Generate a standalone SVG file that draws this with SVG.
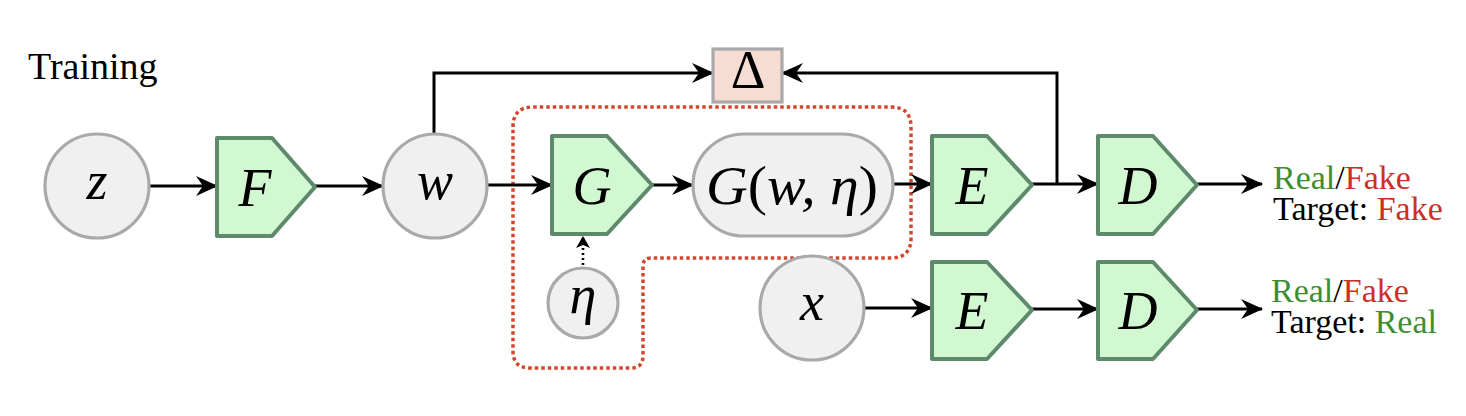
<svg xmlns="http://www.w3.org/2000/svg" width="1466" height="416" viewBox="0 0 1466 416">
<defs>
<style>
.circ{fill:#f0f0f0;stroke:#a9a9a9;stroke-width:3.2}
.pent{fill:#d2f8d2;stroke:#5e8a6c;stroke-width:4;stroke-linejoin:round}
.math{font-family:"Liberation Serif","DejaVu Serif","Times New Roman",serif;font-style:italic;font-size:54px;fill:#000;text-anchor:middle}
.up{font-style:normal}
.edge{fill:none;stroke:#000;stroke-width:3}
.lbl{font-family:"Liberation Serif","DejaVu Serif","Times New Roman",serif;font-size:34px}
.g{fill:#3e8e2f}
.r{fill:#cc2f27}
.k{fill:#000}
</style>
<marker id="arr" viewBox="0 0 22 20" refX="21" refY="10" markerWidth="22" markerHeight="20" markerUnits="userSpaceOnUse" orient="auto">
<path d="M0,0 L22,10 L0,20 L7,10 Z" fill="#000"/>
</marker>
<marker id="arrs" viewBox="0 0 12 14" refX="12" refY="7" markerWidth="12" markerHeight="14" markerUnits="userSpaceOnUse" orient="auto">
<path d="M0,0 L12,7 L0,14 L3,7 Z" fill="#000"/>
</marker>
</defs>
<rect width="1466" height="416" fill="#fff"/>
<text x="28" y="79" font-family="'Liberation Serif','DejaVu Serif','Times New Roman',serif" font-size="38" fill="#000">Training</text>

<g id="region">
<path d="M513,127 Q513,107 533,107 H891 Q911,107 911,127 V238 Q911,258 891,258 H651 Q643,258 643,266 V356 Q643,368 631,368 H530 Q513,368 513,351 Z" fill="none" stroke="#d2462f" stroke-width="3.5" stroke-dasharray="3.5 3"/>
</g>

<g id="connectors">
<line class="edge" x1="150" y1="186" x2="217" y2="186" marker-end="url(#arr)"/>
<line class="edge" x1="315" y1="186" x2="383" y2="186" marker-end="url(#arr)"/>
<line class="edge" x1="487" y1="185" x2="552" y2="185" marker-end="url(#arr)"/>
<line class="edge" x1="652" y1="185" x2="693" y2="185" marker-end="url(#arr)"/>
<line class="edge" x1="893" y1="184" x2="932" y2="184" marker-end="url(#arr)"/>
<line class="edge" x1="1032" y1="184" x2="1098" y2="184" marker-end="url(#arr)"/>
<line class="edge" x1="1197" y1="184" x2="1262" y2="184" marker-end="url(#arr)"/>
<polyline class="edge" points="434,135 434,73 713,73" marker-end="url(#arr)"/>
<polyline class="edge" points="1057,184 1057,73 782,73" marker-end="url(#arr)"/>
<line x1="583" y1="270" x2="583" y2="236" stroke="#000" stroke-width="2.6" stroke-dasharray="2 3" marker-end="url(#arrs)"/>
<line class="edge" x1="865" y1="308" x2="932" y2="308" marker-end="url(#arr)"/>
<line class="edge" x1="1032" y1="309" x2="1098" y2="309" marker-end="url(#arr)"/>
<line class="edge" x1="1197" y1="309" x2="1262" y2="309" marker-end="url(#arr)"/>
</g>

<g id="z"><circle class="circ" cx="97" cy="186" r="52"/><text class="math" x="97" y="199">z</text></g>
<g id="F"><path class="pent" d="M217,138 H272 L315,187 L272,236 H217 Z"/><text class="math" x="255" y="206">F</text></g>
<g id="w"><circle class="circ" cx="435" cy="186" r="52"/><text class="math" x="435" y="199">w</text></g>
<g id="delta"><rect x="713" y="49" width="69" height="53" fill="#f6ddd4" stroke="#a9a9a9" stroke-width="3.2"/><text class="math up" x="748" y="88" font-size="36">Δ</text></g>
<g id="G"><path class="pent" d="M552,136 H607 L652,185 L607,234 H552 Z"/><text class="math" x="592" y="204">G</text></g>
<g id="Gw"><rect class="circ" x="693" y="134" width="200" height="102" rx="51" ry="51"/><text class="math" x="792" y="204" textLength="172" lengthAdjust="spacingAndGlyphs">G<tspan class="up">(</tspan>w, η<tspan class="up">)</tspan></text></g>
<g id="eta"><circle class="circ" cx="583" cy="303" r="35"/><text class="math" x="583" y="313" font-size="46">η</text></g>
<g id="E1"><path class="pent" d="M932,136 H987 L1032,185 L987,234 H932 Z"/><text class="math" x="972" y="204">E</text></g>
<g id="D1"><path class="pent" d="M1098,136 H1153 L1197,185 L1153,234 H1098 Z"/><text class="math" x="1138" y="204">D</text></g>
<g id="x"><circle class="circ" cx="812" cy="308" r="52"/><text class="math" x="812" y="320">x</text></g>
<g id="E2"><path class="pent" d="M932,262 H987 L1032,310 L987,359 H932 Z"/><text class="math" x="972" y="329">E</text></g>
<g id="D2"><path class="pent" d="M1098,262 H1153 L1197,310 L1153,359 H1098 Z"/><text class="math" x="1138" y="329">D</text></g>

<g id="out1">
<text class="lbl"><tspan x="1273" y="189" class="g">Real</tspan><tspan class="k">/</tspan><tspan class="r">Fake</tspan><tspan x="1273" y="220" class="k">Target: </tspan><tspan class="r">Fake</tspan></text>
</g>
<g id="out2">
<text class="lbl"><tspan x="1271" y="302" class="g">Real</tspan><tspan class="k">/</tspan><tspan class="r">Fake</tspan><tspan x="1271" y="333" class="k">Target: </tspan><tspan class="g">Real</tspan></text>
</g>
</svg>
